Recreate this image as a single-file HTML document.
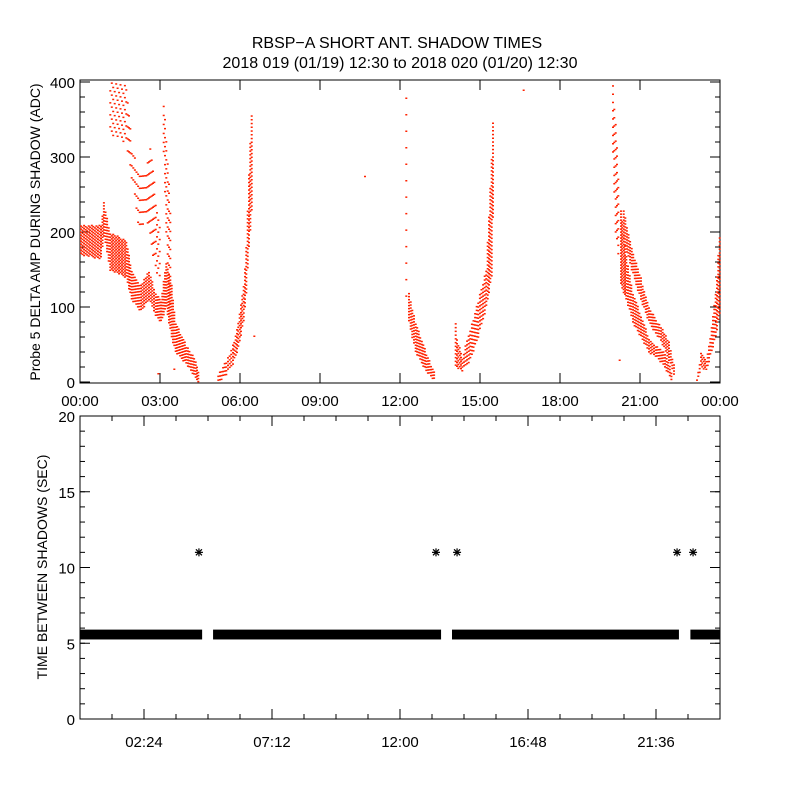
<!DOCTYPE html>
<html><head><meta charset="utf-8"><style>
body{margin:0;background:#fff;width:800px;height:800px;overflow:hidden}
svg text{font-family:"Liberation Sans",sans-serif;fill:#000}
</style></head><body>
<svg id="c" width="800" height="800" xmlns="http://www.w3.org/2000/svg">
<text x="397" y="48" font-size="16" text-anchor="middle">RBSP−A SHORT ANT. SHADOW TIMES</text>
<text x="400" y="68" font-size="16" text-anchor="middle">2018 019 (01/19) 12:30 to 2018 020 (01/20) 12:30</text>
<g id="topPanel"></g>
<g id="botPanel"></g>
</svg>
<script>
// ---- top panel data: bands [hour, low, high] ----
const bandLowerEarly=[[0,170,210],[0.75,165,210],[0.86,195,240],[1.1,150,200],[1.7,140,190],[1.9,110,150],[2.25,95,130],[2.55,110,150],[2.8,90,120],[3.0,80,110],[3.2,100,160],[3.4,60,130],[3.55,40,80],[3.95,25,50],[4.3,5,30],[4.45,0,10]];
const bandUpperEarly=[[1.1,330,400],[1.7,320,400],[1.9,270,320],[2.2,200,280],[2.45,220,290],[2.6,190,320],[2.8,150,250],[3.0,130,200]];
const bandSteepEarly=[[3.1,300,380],[3.25,150,300],[3.4,80,200]];
const bandMorningRise=[[5.15,0,10],[5.45,10,30],[5.7,25,50],[5.9,45,80],[6.1,80,130],[6.2,120,180],[6.3,180,280],[6.45,250,400]];
const bandNoonSparse=[[12.2,100,380],[12.24,100,380]];
const bandNoonFall=[[12.3,80,120],[12.55,40,80],[12.95,15,40],[13.3,0,10]];
const bandAfternoonRise=[[14.05,20,80],[14.1,20,60],[14.3,15,35],[14.6,30,70],[14.9,60,110],[15.2,100,150],[15.4,140,300],[15.5,300,400]];
const bandEveningUpper=[[19.95,300,400],[20.05,200,350],[20.2,150,240]];
const bandEveningA=[[20.25,130,230],[20.45,110,170],[20.7,80,120],[21.0,60,90],[21.3,40,60],[21.55,35,50],[21.9,20,40],[22.2,0,10]];
const bandEveningB=[[20.35,190,230],[20.65,150,180],[21.0,110,140],[21.3,80,100],[21.56,65,85],[21.75,55,75],[22.05,30,55],[22.3,5,15]];
const bandNightRise=[[23.1,0,5],[23.25,20,40],[23.45,15,30],[23.6,35,60],[23.8,60,120],[24.0,100,220]];
const strayHours=[10.65,16.6,6.5,2.9,3.5,20.2];
const strayValues=[275,390,62,12,18,30];
const bandSpacing=[4,16,12,5,22,4,5,11,4,4,5];
// ---- bottom panel data ----
const gapSegStart=[0,4.99,13.95,22.89];
const gapSegEnd=[4.58,13.54,22.46,24];
const bandLow=5.25, bandHigh=5.9;
const starHours=[4.46,13.35,14.14,22.39,22.99];
const starValues=[11,11,11,11,11];
const topYTicks=[0,100,200,300,400];
const topXTickLabels=["00:00","03:00","06:00","09:00","12:00","15:00","18:00","21:00","00:00"];
const botYTicks=[0,5,10,15,20];
const botXTickLabels=["02:24","07:12","12:00","16:48","21:36"];

const NS="http://www.w3.org/2000/svg";
function mk(p,t,a){const e=document.createElementNS(NS,t);for(const k in a)e.setAttribute(k,a[k]);p.appendChild(e);return e;}
const L=80,R=720;
const xs=h=>L+h*(R-L)/24;
const ty=v=>382-v*0.75;
const by=v=>719-v*(303/20);
const topG=document.getElementById('topPanel'), botG=document.getElementById('botPanel');

let fr=mk(topG,'rect',{x:L,y:80,width:R-L,height:303,fill:'none',stroke:'#000','stroke-width':1});


fr=mk(botG,'rect',{x:L,y:416,width:R-L,height:303,fill:'none',stroke:'#000','stroke-width':1});



topYTicks.forEach(v=>{
  mk(topG,'line',{x1:L,x2:L+10,y1:ty(v),y2:ty(v),stroke:'#000'});
  mk(topG,'line',{x1:R,x2:R-10,y1:ty(v),y2:ty(v),stroke:'#000'});
  const t=mk(topG,'text',{x:L-5,y:ty(v)+6,'font-size':15,'text-anchor':'end'});t.textContent=v;
  
  
});
for(let v=0;v<=400;v+=20){mk(topG,'line',{x1:L,x2:L+5,y1:ty(v),y2:ty(v),stroke:'#000'});mk(topG,'line',{x1:R,x2:R-5,y1:ty(v),y2:ty(v),stroke:'#000'});}
topXTickLabels.forEach((s,i)=>{
  const x=xs(i*3);
  mk(topG,'line',{x1:x,x2:x,y1:383,y2:373,stroke:'#000'});
  mk(topG,'line',{x1:x,x2:x,y1:80,y2:90,stroke:'#000'});
  const t=mk(topG,'text',{x:x,y:406,'font-size':15,'text-anchor':'middle'});t.textContent=s;
  
  
});
let yt=mk(topG,'text',{x:0,y:0,'font-size':14,'text-anchor':'middle',transform:'translate(40,232) rotate(-90)'});
yt.textContent='Probe 5 DELTA AMP DURING SHADOW (ADC)';



const bands=[bandLowerEarly,bandUpperEarly,bandSteepEarly,bandMorningRise,bandNoonSparse,bandNoonFall,bandAfternoonRise,bandEveningUpper,bandEveningA,bandEveningB,bandNightRise];
const dots=mk(topG,'g',{fill:'#ff2200'});


bands.forEach((b,bi)=>{
  const sp=bandSpacing[bi];let k=0;
  for(let i=0;i<b.length-1;i++){
    const [h0,l0,u0]=b[i],[h1,l1,u1]=b[i+1];
    const n=Math.max(1,Math.round((xs(h1)-xs(h0))/1.5));
    for(let j=0;j<n;j++){
      const q=j/n,h=h0+(h1-h0)*q,lo=l0+(l1-l0)*q,hi=u0+(u1-u0)*q;
      k++;
      for(let v=lo+((k*7)%10)/10*sp;v<=hi;v+=sp){
        if(v>401)continue;
        mk(dots,'rect',{x:xs(h).toFixed(1),y:ty(v).toFixed(1),width:2,height:1.5});
      }
    }
  }
});
strayHours.forEach((h,i)=>mk(dots,'rect',{x:xs(h),y:ty(strayValues[i]),width:2,height:1.5}));

botYTicks.forEach(v=>{
  mk(botG,'line',{x1:L,x2:L+10,y1:by(v),y2:by(v),stroke:'#000'});
  mk(botG,'line',{x1:R,x2:R-10,y1:by(v),y2:by(v),stroke:'#000'});
  const t=mk(botG,'text',{x:L-5,y:by(v)+6,'font-size':15,'text-anchor':'end'});t.textContent=v;
  
  
});
for(let v=0;v<=20;v+=1){mk(botG,'line',{x1:L,x2:L+5,y1:by(v),y2:by(v),stroke:'#000'});mk(botG,'line',{x1:R,x2:R-5,y1:by(v),y2:by(v),stroke:'#000'});}
for(let m=1;m<20;m++){const x=xs(m*1.2),maj=(m%4===2);
  mk(botG,'line',{x1:x,x2:x,y1:719,y2:maj?709:714,stroke:'#000'});mk(botG,'line',{x1:x,x2:x,y1:416,y2:maj?426:421,stroke:'#000'});}
botXTickLabels.forEach((s,i)=>{
  const t=mk(botG,'text',{x:xs(2.4+i*4.8),y:747,'font-size':15,'text-anchor':'middle'});t.textContent=s;
  
  
});
yt=mk(botG,'text',{x:0,y:0,'font-size':14,'text-anchor':'middle',transform:'translate(47,567) rotate(-90)'});
yt.textContent='TIME BETWEEN SHADOWS (SEC)';



gapSegStart.forEach((s,i)=>{
  const r=mk(botG,'rect',{x:xs(s),y:by(bandHigh),width:xs(gapSegEnd[i])-xs(s),height:by(bandLow)-by(bandHigh),fill:'#000'});
  
  
});
starHours.forEach((h,i)=>{
  const cx=xs(h),cy=by(starValues[i]);
  const g=mk(botG,'g',{stroke:'#000','stroke-width':1.2});
  
  
  mk(g,'line',{x1:cx-4,x2:cx+4,y1:cy,y2:cy});
  mk(g,'line',{x1:cx,x2:cx,y1:cy-4,y2:cy+4});
  mk(g,'line',{x1:cx-3,x2:cx+3,y1:cy-3,y2:cy+3});
  mk(g,'line',{x1:cx-3,x2:cx+3,y1:cy+3,y2:cy-3});
});
</script>
</body></html>
